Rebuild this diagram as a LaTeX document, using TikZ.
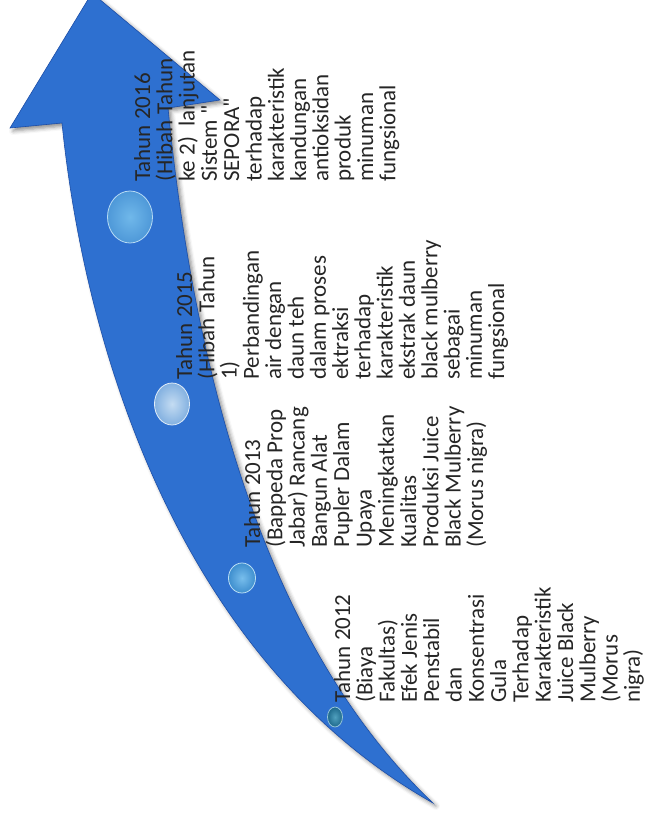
\documentclass[tikz,border=0pt]{standalone}
\usepackage{fontspec}
\setmainfont{Carlito}[Ligatures=TeXOff]
\usetikzlibrary{shapes.geometric,shadows.blur}
\definecolor{arrowblue}{RGB}{46,112,208}
\definecolor{arrowedge}{RGB}{28,78,168}
\definecolor{txtgray}{RGB}{38,38,38}
\definecolor{ballA}{RGB}{112,184,234}
\definecolor{ballAo}{RGB}{78,152,216}
\definecolor{ballB}{RGB}{196,220,242}
\definecolor{ballBo}{RGB}{130,176,224}
\definecolor{ballC}{RGB}{120,190,236}
\definecolor{ballCo}{RGB}{62,142,206}
\definecolor{ballD}{RGB}{80,160,190}
\definecolor{ballDo}{RGB}{30,105,140}
\tikzset{
  bigarrow/.style={fill=arrowblue, draw=arrowedge, line width=0.6pt,
    blur shadow={shadow xshift=3pt, shadow yshift=-3pt, shadow blur radius=4pt, shadow opacity=45}},
  ballshape/.style={ellipse, inner sep=0pt, line width=0.8pt},
  ballone/.style={ballshape, inner color=ballA, outer color=ballAo, draw=ballA!50!white},
  balltwo/.style={ballshape, inner color=ballB, outer color=ballBo, draw=ballB!50!white},
  ballthree/.style={ballshape, inner color=ballC, outer color=ballCo, draw=ballC!50!white},
  ballfour/.style={ballshape, inner color=ballD, outer color=ballDo, draw=ballD!60!white},
  yeartext/.style={anchor=base west, rotate=90, inner sep=0pt, text=txtgray,
    font=\fontsize{23}{22.3}\selectfont},
}
\newcommand{\yblock}[1]{\parbox[t]{330pt}{\lineskiplimit=-100pt\relax #1}}
\begin{document}
\begin{tikzpicture}[x=1pt,y=-1pt]
\useasboundingbox (0,0) rectangle (645,815);
\clip (0,0) rectangle (645,815);
% curved arrow
\path[bigarrow] (62,123) -- (10,128) -- (92,-7) -- (220,100) -- (168,108)
  .. controls (190,330) and (250,630) .. (433,803)
  .. controls (180,660) and (85,350) .. (62,123) -- cycle;
% circles
\node[ballone, minimum width=45pt, minimum height=52pt] (c2016) at (130,217) {};
\node[balltwo, minimum width=35pt, minimum height=42pt] (c2015) at (172,404) {};
\node[ballthree, minimum width=27pt, minimum height=30pt] (c2013) at (242,578) {};
\node[ballfour, minimum width=15pt, minimum height=20pt] (c2012) at (335,717) {};
% texts
\node[yeartext] (t2012) at (350,703) {\yblock{Tahun 2012\\(Biaya\\Fakultas)\\Efek Jenis\\Penstabil\\dan\\Konsentrasi\\Gula\\Terhadap\\Karakteristik\\Juice Black\\Mulberry\\(Morus\\nigra)}};
\node[yeartext] (t2013) at (260,548) {\yblock{Tahun 2013\\(Bappeda Prop\\Jabar) Rancang\\Bangun Alat\\Pupler Dalam\\Upaya\\Meningkatkan\\Kualitas\\Produksi Juice\\Black Mulberry\\(Morus nigra)}};
\node[yeartext] (t2015) at (192,380) {\yblock{Tahun 2015\\(Hibah Tahun\\1)\\Perbandingan\\air dengan\\daun teh\\dalam proses\\ektraksi\\terhadap\\karakteristik\\ekstrak daun\\black mulberry\\sebagai\\minuman\\fungsional}};
\node[yeartext] (t2016) at (150,182) {\yblock{Tahun 2016\\(Hibah Tahun\\ke 2)\ \ lanjutan\\Sistem "\\SEPORA"\\terhadap\\karakteristik\\kandungan\\antioksidan\\produk\\minuman\\fungsional}};
\end{tikzpicture}
\end{document}
